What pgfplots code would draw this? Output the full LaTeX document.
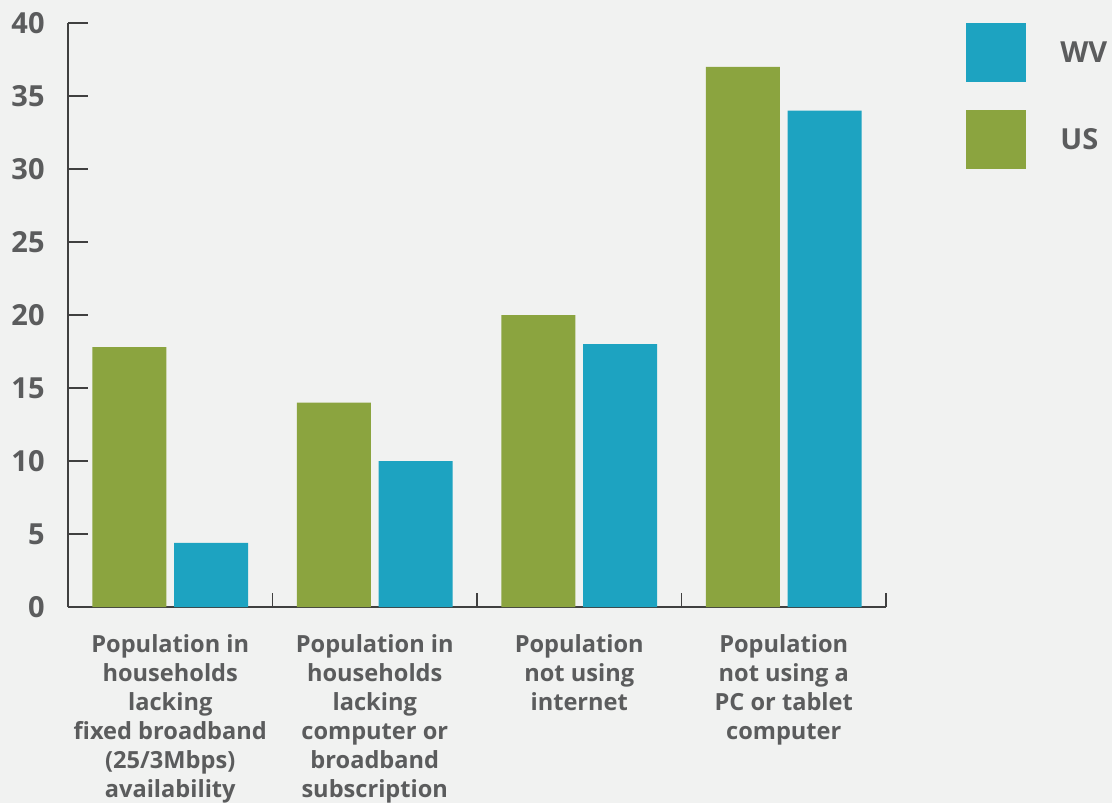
\documentclass[border=0pt]{standalone}
\usepackage{fontspec}
\setmainfont{Open Sans}
\usepackage{pgfplots}
\pgfplotsset{compat=1.18}
\definecolor{bg}{HTML}{F1F2F1}
\definecolor{usg}{HTML}{8BA43F}
\definecolor{wvb}{HTML}{1DA3C1}
\definecolor{txt}{HTML}{5B5C5D}
\definecolor{axc}{HTML}{404040}
\pgfplotsset{sqleg/.style={legend image code/.code={\fill[##1] (0pt,-14.5pt) rectangle (30pt,15pt);}}}
\begin{document}
\begin{tikzpicture}
\path[use as bounding box, fill=bg] (-34pt,-98pt) rectangle (522pt,303.5pt);
\begin{axis}[ybar, bar width=0.362,
  at={(0,0)}, anchor=south west, scale only axis,
  width=409pt, height=292pt,
  xmin=-0.5, xmax=3.5, ymin=0, ymax=40,
  axis lines*=left,
  axis line style={axc, line width=0.8pt},
  tick align=inside, xtick align=inside, ytick align=inside,
  ytick={0,5,...,40},
  major tick length=10pt, minor tick length=7pt,
  tick style={axc, line width=0.8pt},
  major x tick style={draw=none},
  xtick={0,1,2,3},
  minor xtick={-0.5,0.5,1.5,2.5,3.5},
  xticklabels={{Population in\\households\\lacking\\fixed broadband\\(25/3Mbps)\\availability},
    {Population in\\households\\lacking\\computer or\\broadband\\subscription},
    {Population\\not using\\internet},
    {Population\\not using a\\PC or tablet\\computer}},
  /pgf/number format/assume math mode=true,
  xticklabel style={anchor=north, inner sep=0pt, yshift=-13.5pt, align=center, text=txt,
    font=\bfseries\fontsize{11.8}{14.5}\selectfont},
  yticklabel style={anchor=east, inner sep=0pt, xshift=-11.5pt, text=txt,
    font=\bfseries\fontsize{14.5}{17}\selectfont},
  reverse legend,
  legend cell align=left,
  legend style={at={(1.0978,1)}, anchor=north west, draw=none, fill=none,
    inner sep=0pt, row sep=14pt, column sep=17pt, text=txt,
    font=\bfseries\fontsize{14.5}{17}\selectfont, nodes={inner sep=0pt}},
]
\addplot[fill=usg, draw=none, bar shift=-0.2, sqleg] coordinates {(0,17.8) (1,14) (2,20) (3,37)};
\addplot[fill=wvb, draw=none, bar shift=0.2, sqleg] coordinates {(0,4.4) (1,10) (2,18) (3,34)};
\legend{US,WV}
\end{axis}
\end{tikzpicture}
\end{document}
